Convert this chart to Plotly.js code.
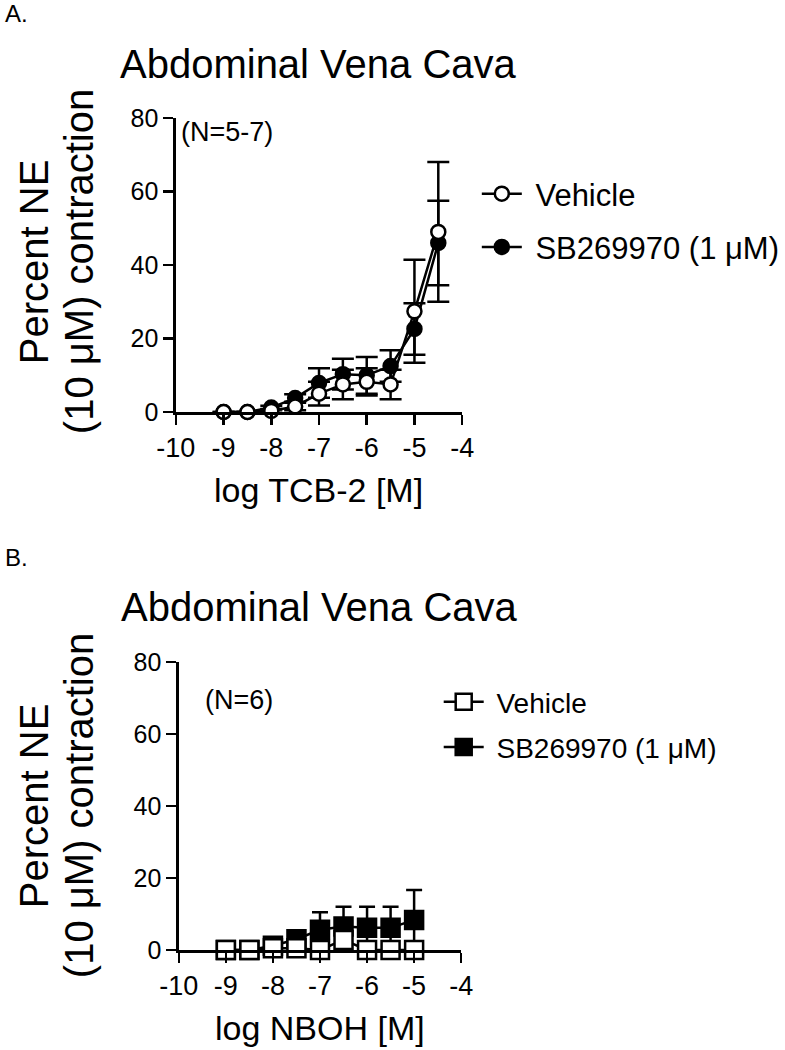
<!DOCTYPE html>
<html>
<head>
<meta charset="utf-8">
<script src="https://cdn.plot.ly/plotly-3.0.1.min.js"></script>
<style>
  html, body { margin: 0; padding: 0; background: #fff; }
  #chart { width: 785px; height: 1050px; }
</style>
</head>
<body>
<div id="chart"></div>
<script>
// panel A: TCB-2
const logConcA = [-9, -8.5, -8, -7.5, -7, -6.5, -6, -5.5, -5, -4.5];
const tcbVehicle = [0, 0, 0.3, 1.5, 5.0, 7.5, 8.2, 7.5, 27.4, 49];
const tcbVehicleSem = [0, 0, 0.5, 1, 3.2, 4, 3.7, 4, 14, 19];
const tcbSB = [0, 0, 1.2, 3.8, 7.9, 10.3, 10, 12.5, 22.6, 46];
const tcbSBSem = [0, 0, 0.5, 1, 4, 4.2, 5, 4.3, 7, 11.5];

// panel B: NBOH
const logConcB = [-9, -8.5, -8, -7.5, -7, -6.5, -6, -5.5, -5];
const nbohVehicle = [0, 0, 0.5, 0.5, 0, 2.8, 0, 0, 0];
const nbohVehicleSem = [0, 0, 0.5, 0.5, 0.5, 1, 0.5, 0.5, 0.5];
const nbohSB = [0, 0, 1.2, 3.0, 5.6, 6.5, 6.2, 6.2, 8.3];
const nbohSBSem = [0, 0, 0.5, 0.8, 4.9, 5.5, 5.8, 5.8, 8.4];

const xTickVals = [-10, -9, -8, -7, -6, -5, -4];
const xTickText = ['-10', '-9', '-8', '-7', '-6', '-5', '-4'];
const yTickVals = [0, 20, 40, 60, 80];

const FONT = 'Liberation Sans, Arial, Helvetica, sans-serif';
const W = 785, H = 1050;
const px = x => x / W;
const py = y => 1 - y / H;

// nbsp in front of the names gives the wider symbol-to-text gap of the original
function series(x, y, err, name, symbol, fill, xa, ya, legend, rank, size, capw) {
  return {
    x: x, y: y, name: '\u00a0' + name, xaxis: xa, yaxis: ya,
    legend: legend, legendgroup: legend + name, legendrank: rank,
    type: 'scatter', mode: 'lines+markers', cliponaxis: false,
    line: { color: '#000', width: 2.5 },
    marker: { symbol: symbol, size: size, color: fill, line: { color: '#000', width: 2.5 } },
    error_y: { type: 'data', array: err, visible: true, color: '#000', thickness: 2.5, width: capw }
  };
}

// vehicle drawn last so its open markers sit on top
const traces = [
  series(logConcA, tcbSB, tcbSBSem, 'SB269970 (1 μM)', 'circle', '#000', 'x', 'y', 'legend', 2, 14, 11),
  series(logConcA, tcbVehicle, tcbVehicleSem, 'Vehicle', 'circle', '#fff', 'x', 'y', 'legend', 1, 14, 11),
  series(logConcB, nbohSB, nbohSBSem, 'SB269970 (1 μM)', 'square', '#000', 'x2', 'y2', 'legend2', 2, 18, 8),
  series(logConcB, nbohVehicle, nbohVehicleSem, 'Vehicle', 'square', '#fff', 'x2', 'y2', 'legend2', 1, 18, 8)
];

function xAxis(domain, anchor) {
  return {
    domain: domain, anchor: anchor, range: [-10, -4],
    tickvals: xTickVals, ticktext: xTickText,
    showline: true, linecolor: '#000', linewidth: 2.5,
    ticks: 'outside', ticklen: 10, tickwidth: 2.5, tickcolor: '#000',
    showgrid: false, zeroline: false,
    tickfont: { family: FONT, size: 27, color: '#000' }
  };
}
function yAxis(domain, anchor) {
  return {
    domain: domain, anchor: anchor, range: [0, 80],
    tickvals: yTickVals,
    showline: true, linecolor: '#000', linewidth: 2.5,
    ticks: 'outside', ticklen: 10, tickwidth: 2.5, tickcolor: '#000',
    showgrid: false, zeroline: false,
    tickfont: { family: FONT, size: 25, color: '#000' }
  };
}

function txt(text, x, y, size, opts) {
  return Object.assign({
    text: text, xref: 'paper', yref: 'paper', x: px(x), y: py(y),
    xanchor: 'center', yanchor: 'middle', showarrow: false,
    font: { family: FONT, size: size, color: '#000' }
  }, opts || {});
}

const annotations = [
  txt('A.', 3, 13, 24, { xanchor: 'left' }),
  txt('Abdominal Vena Cava', 326, 64, 40),
  txt('(N=5-7)', 183, 132, 27, { xanchor: 'left' }),
  txt('Percent NE', 35, 262, 40, { textangle: -90 }),
  txt('(10 μM) contraction', 81, 262, 40, { textangle: -90 }),
  txt('log TCB-2 [M]', 326, 490, 34),

  txt('B.', 3, 557, 24, { xanchor: 'left' }),
  txt('Abdominal Vena Cava', 327, 607, 40),
  txt('(N=6)', 208, 700, 27, { xanchor: 'left' }),
  txt('Percent NE', 35, 806, 40, { textangle: -90 }),
  txt('(10 μM) contraction', 81, 806, 40, { textangle: -90 }),
  txt('log NBOH [M]', 327, 1028, 34)
];

const layout = {
  width: W, height: H,
  margin: { l: 0, r: 0, t: 0, b: 0 },
  paper_bgcolor: '#fff', plot_bgcolor: '#fff',
  font: { family: FONT, color: '#000' },
  xaxis: xAxis([px(180), px(473)], 'y'),
  yaxis: yAxis([py(412), py(118)], 'x'),
  xaxis2: xAxis([px(183), px(472)], 'y2'),
  yaxis2: yAxis([py(950), py(662)], 'x2'),
  legend: {
    x: px(488), y: py(167), xanchor: 'left', yanchor: 'top',
    traceorder: 'grouped', tracegroupgap: 10,
    itemwidth: 40, bgcolor: 'rgba(0,0,0,0)',
    font: { family: FONT, size: 31, color: '#000' }
  },
  legend2: {
    x: px(449), y: py(677), xanchor: 'left', yanchor: 'top',
    traceorder: 'grouped', tracegroupgap: 6,
    itemwidth: 40, bgcolor: 'rgba(0,0,0,0)',
    font: { family: FONT, size: 28, color: '#000' }
  },
  annotations: annotations,
  showlegend: true
};

Plotly.newPlot('chart', traces, layout, { displayModeBar: false, staticPlot: true });
</script>
</body>
</html>
